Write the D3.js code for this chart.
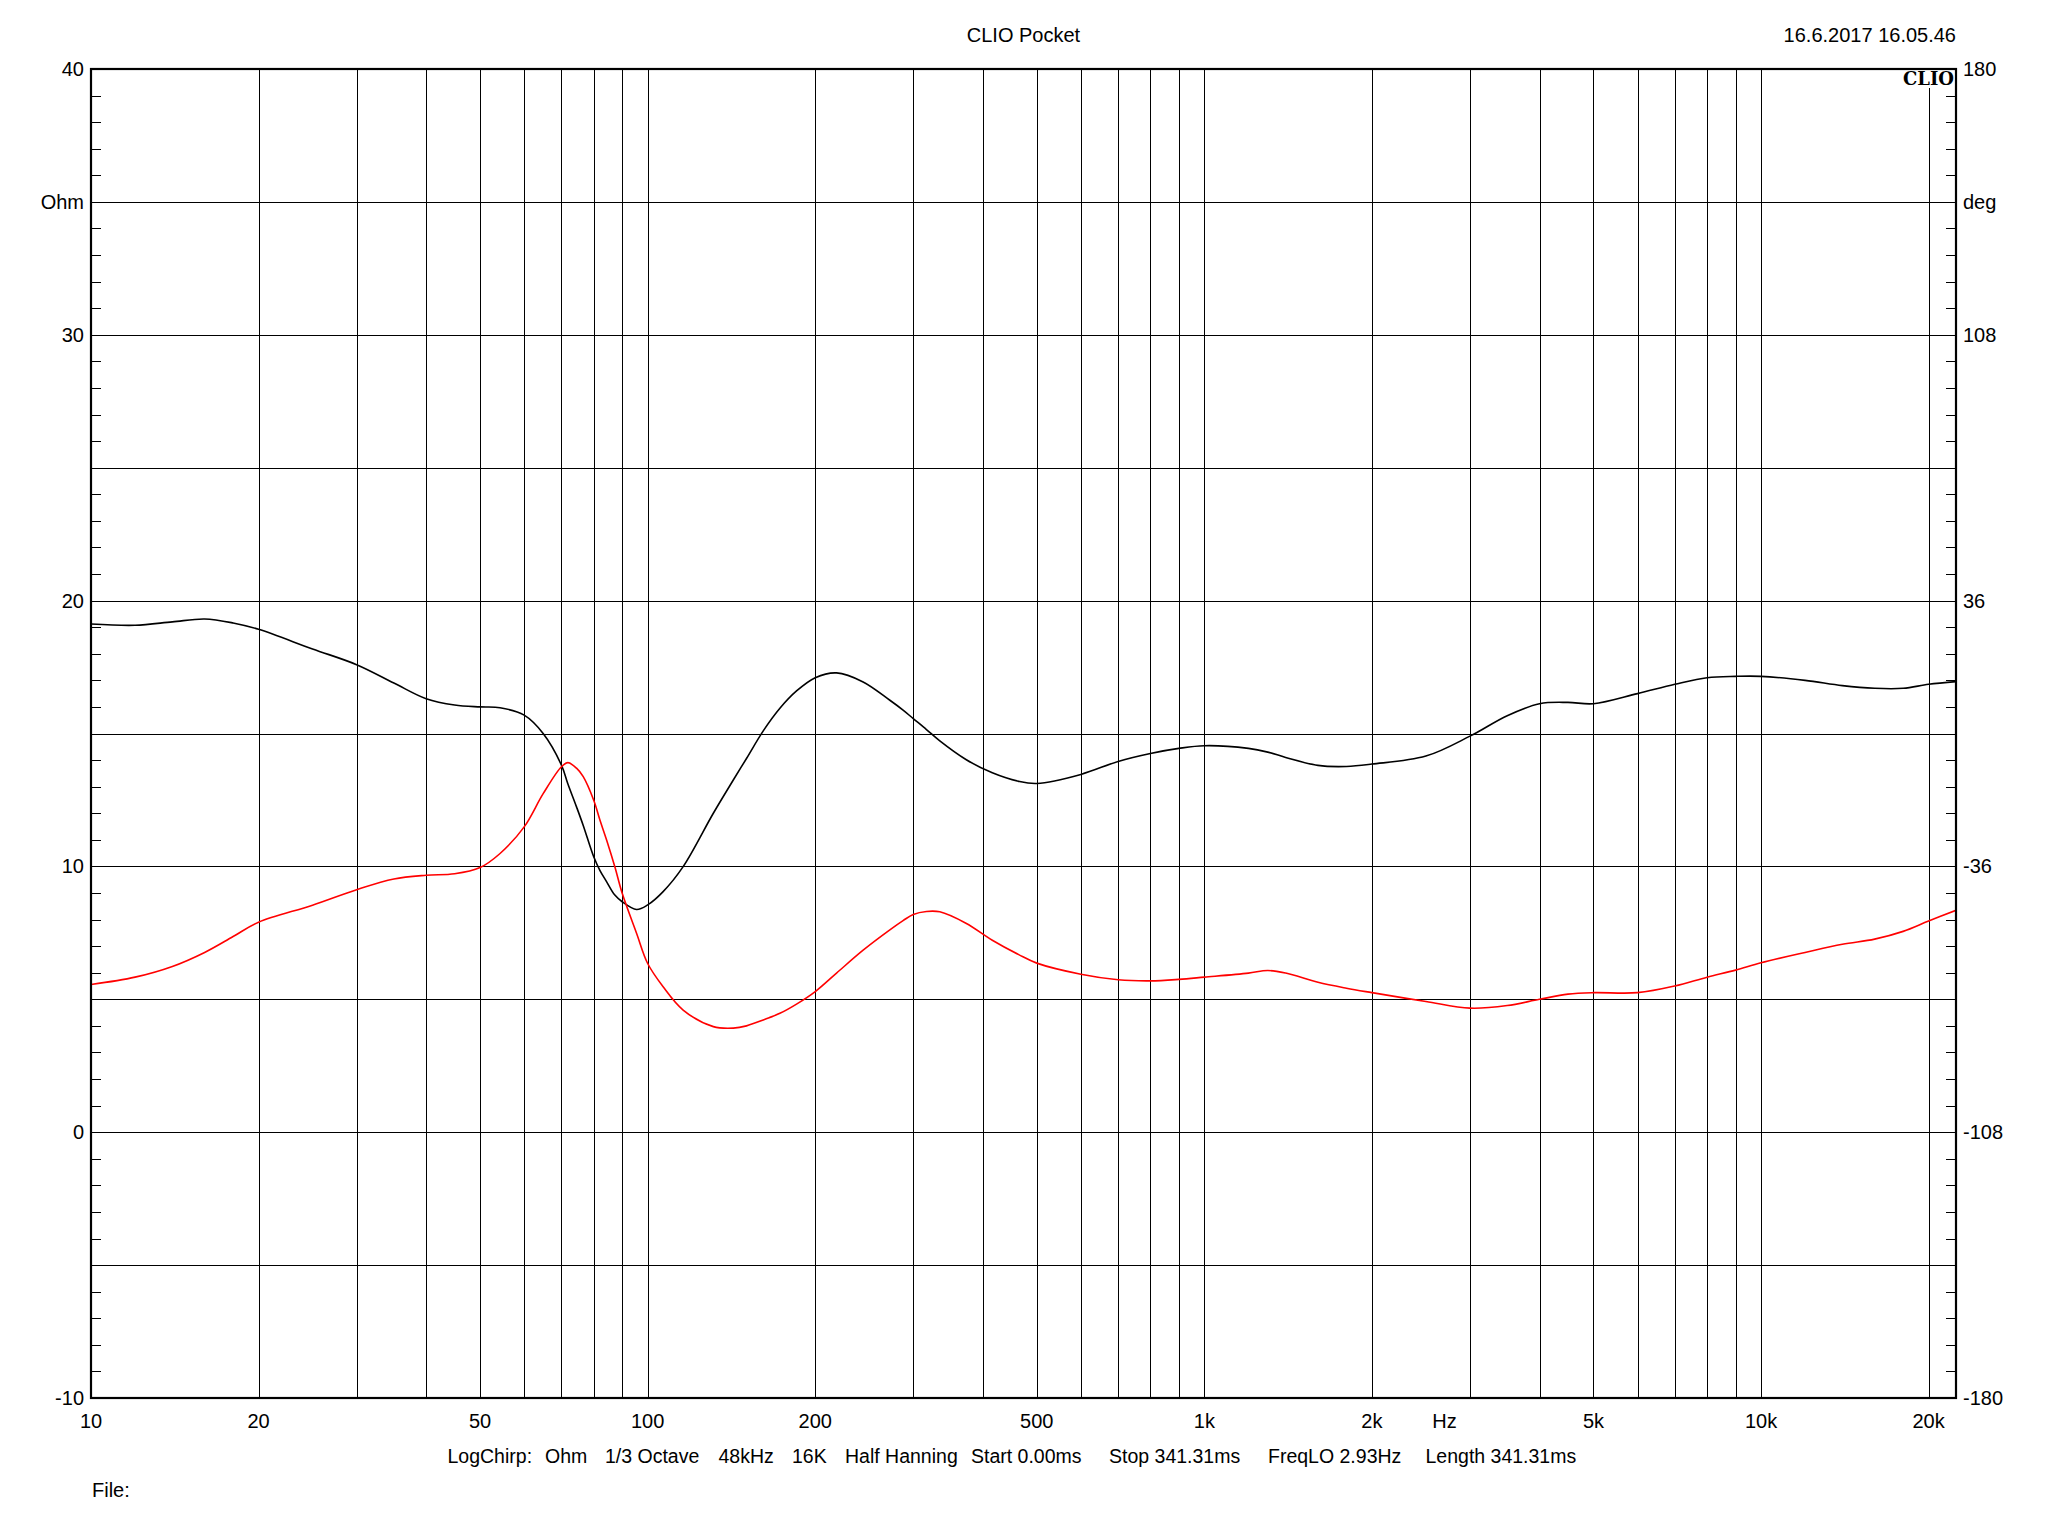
<!DOCTYPE html>
<html>
<head>
<meta charset="utf-8">
<script src="https://cdn.jsdelivr.net/npm/d3@7/dist/d3.min.js"></script>
<style>
  html, body { margin: 0; padding: 0; background: #fff; }
  svg { display: block; }
  text { font-family: "Liberation Sans", Arial, sans-serif; fill: #000; }
</style>
</head>
<body>
<svg id="chart" width="2048" height="1536"></svg>
<script>
// ---------------- data ----------------
const freqHz = [
  10,12,14,16,18,20,25,30,35,40,
  45,50,54.3,60,64.9,70,71.9,74.5,76.6,80,
  82.1,84.4,87.3,90,95.5,100,106.6,115.8,131.2,142.5,
  150.5,161.3,172.8,185.1,200,218.4,243.8,272.3,287.6,300,
  316.8,334.8,373,416,464,500,600,700,800,900,
  1000,1200,1300,1400,1600,1800,2000,2500,3000,3500,
  4000,4500,5000,6000,7000,8000,9000,10000,12000,14000,
  16000,18000,20000,22400];

// black trace, left axis (Ohm)
const impedanceOhm = [
  19.12,19.07,19.2,19.31,19.16,18.92,18.18,17.59,16.9,16.31,
  16.07,16.0,15.97,15.69,15.0,13.81,13.1,12.24,11.54,10.36,
  9.84,9.42,8.92,8.67,8.38,8.55,9.05,9.99,12.0,13.25,
  14.06,15.1,15.95,16.6,17.1,17.28,16.94,16.25,15.88,15.56,
  15.15,14.72,14.02,13.52,13.2,13.12,13.46,13.95,14.25,14.44,
  14.54,14.44,14.3,14.1,13.8,13.76,13.85,14.15,14.9,15.67,
  16.12,16.17,16.12,16.5,16.85,17.1,17.15,17.15,17.0,16.8,
  16.7,16.7,16.85,16.95];

// red trace, right axis (deg)
const phaseDeg = [
  -68.0,-66.0,-63.1,-59.3,-55.0,-51.1,-46.5,-42.3,-39.4,-38.4,
  -38.0,-36.3,-32.5,-25.3,-16.3,-9.0,-7.9,-9.4,-11.7,-18.1,
  -23.5,-28.9,-36.1,-43.3,-54.1,-62.3,-68.6,-74.9,-79.4,-79.8,
  -79.2,-77.6,-75.8,-73.3,-69.9,-64.9,-58.7,-53.2,-50.7,-49.0,
  -48.2,-48.3,-51.4,-56.0,-59.9,-62.2,-65.2,-66.7,-67.0,-66.6,
  -66.0,-64.9,-64.2,-64.9,-67.4,-69.0,-70.2,-72.6,-74.4,-73.7,
  -72.0,-70.6,-70.2,-70.2,-68.4,-66.0,-64.1,-62.1,-59.3,-57.1,
  -55.7,-53.6,-50.8,-47.9];

const xTickValues = [10,20,50,100,200,500,1000,2000,5000,10000,20000];
const xTickLabels = ["10","20","50","100","200","500","1k","2k","5k","10k","20k"];
const leftTickValues = [40,30,20,10,0,-10];
const rightTickValues = [180,108,36,-36,-108,-180];
const leftUnit = "Ohm";
const rightUnit = "deg";
const xUnit = "Hz";
const titleText = "CLIO Pocket";
const dateText = "16.6.2017 16.05.46";
const logoText = "CLIO";
const footerItems = ["LogChirp:","Ohm","1/3 Octave","48kHz","16K","Half Hanning","Start 0.00ms","Stop 341.31ms","FreqLO 2.93Hz","Length 341.31ms"];
const fileLabel = "File:";

// ---------------- layout ----------------
const L = 91, R = 1956, T = 69, B = 1398;
const footerX = [447.5,545,605,718.5,792,845,971,1109,1268,1425.5];

const svg = d3.select("#chart");
svg.append("rect").attr("width",2048).attr("height",1536).attr("fill","#fff");

const x = d3.scaleLog().domain([10, 22400]).range([L, R]);
const yL = d3.scaleLinear().domain([-10, 40]).range([B, T]);
const yR = d3.scaleLinear().domain([-180, 180]).range([B, T]);

const px = v => Math.round(v) + 0.5;

// vertical grid lines (1..9 per decade)
const vGrid = [];
for (let dec = 10; dec <= 10000; dec *= 10) {
  for (let m = 1; m <= 9; m++) {
    const f = dec * m;
    if (f > 10 && f <= 20000) vGrid.push(f);
  }
}
const grid = svg.append("g").attr("stroke","#000").attr("stroke-width",1.1).attr("shape-rendering","crispEdges");
grid.selectAll("line.v").data(vGrid).join("line")
  .attr("x1", d => px(x(d))).attr("x2", d => px(x(d)))
  .attr("y1", T).attr("y2", B);
const hGrid = d3.range(-5, 40, 5);
grid.selectAll("line.h").data(hGrid).join("line")
  .attr("x1", L).attr("x2", R)
  .attr("y1", d => px(yL(d))).attr("y2", d => px(yL(d)));

// minor ticks every 1 Ohm on both sides (inward)
const minor = d3.range(-9, 40, 1).filter(v => v % 5 !== 0);
const ticks = svg.append("g").attr("stroke","#000").attr("stroke-width",1.1).attr("shape-rendering","crispEdges");
ticks.selectAll("line.l").data(minor).join("line")
  .attr("x1", L).attr("x2", L + 10)
  .attr("y1", d => px(yL(d))).attr("y2", d => px(yL(d)));
ticks.selectAll("line.r").data(minor).join("line")
  .attr("x1", R - 10).attr("x2", R)
  .attr("y1", d => px(yL(d))).attr("y2", d => px(yL(d)));

// traces
const lineBlack = d3.line()
  .x((d, i) => x(freqHz[i]))
  .y(d => yL(d))
  .curve(d3.curveCatmullRom.alpha(0.5));
const lineRed = d3.line()
  .x((d, i) => x(freqHz[i]))
  .y(d => yR(d))
  .curve(d3.curveCatmullRom.alpha(0.5));

const clip = svg.append("clipPath").attr("id","plotclip");
clip.append("rect").attr("x",L).attr("y",T).attr("width",R-L).attr("height",B-T);

svg.append("path").datum(impedanceOhm)
  .attr("d", lineBlack).attr("fill","none").attr("stroke","#000")
  .attr("stroke-width",1.6).attr("clip-path","url(#plotclip)");
svg.append("path").datum(phaseDeg)
  .attr("d", lineRed).attr("fill","none").attr("stroke","#ff0000")
  .attr("stroke-width",1.6).attr("clip-path","url(#plotclip)");

// logo with white background
const logo = svg.append("text")
  .attr("x", R - 2).attr("y", T + 16)
  .attr("text-anchor","end")
  .style("font-family","'DejaVu Serif', 'Liberation Serif', serif")
  .style("font-weight","bold").style("font-size","18px")
  .text(logoText);
const bb = logo.node().getBBox();
svg.insert("rect", () => logo.node())
  .attr("x", bb.x - 1).attr("y", T + 1).attr("width", R - bb.x).attr("height", bb.y + bb.height - T - 2)
  .attr("fill","#fff");

// frame
svg.append("rect").attr("x",L).attr("y",T).attr("width",R-L).attr("height",B-T)
  .attr("fill","none").attr("stroke","#000").attr("stroke-width",2.2);

const fs = "20px";
// left labels
svg.append("g").selectAll("text").data(leftTickValues).join("text")
  .attr("x", L - 7).attr("y", d => yL(d) + 7).attr("text-anchor","end")
  .style("font-size", fs).text(d => d);
svg.append("text").attr("x", L - 7).attr("y", yL(35) + 7).attr("text-anchor","end")
  .style("font-size", fs).text(leftUnit);

// right labels
svg.append("g").selectAll("text").data(rightTickValues).join("text")
  .attr("x", R + 7).attr("y", d => yR(d) + 7).attr("text-anchor","start")
  .style("font-size", fs).text(d => d);
svg.append("text").attr("x", R + 7).attr("y", yR(144) + 7).attr("text-anchor","start")
  .style("font-size", fs).text(rightUnit);

// x labels
svg.append("g").selectAll("text").data(xTickValues).join("text")
  .attr("x", d => x(d)).attr("y", B + 30).attr("text-anchor","middle")
  .style("font-size", fs).text((d, i) => xTickLabels[i]);
svg.append("text").attr("x", x(2700)).attr("y", B + 30).attr("text-anchor","middle")
  .style("font-size", fs).text(xUnit);

// title and date
svg.append("text").attr("x", (L + R) / 2).attr("y", 42).attr("text-anchor","middle")
  .style("font-size", fs).text(titleText);
svg.append("text").attr("x", R).attr("y", 42).attr("text-anchor","end")
  .style("font-size", fs).text(dateText);

// footer
svg.append("g").selectAll("text").data(footerItems).join("text")
  .attr("x", (d, i) => footerX[i]).attr("y", 1463)
  .style("font-size","19.5px").text(d => d);
svg.append("text").attr("x", L + 1).attr("y", 1497)
  .style("font-size", fs).text(fileLabel);
</script>
</body>
</html>
